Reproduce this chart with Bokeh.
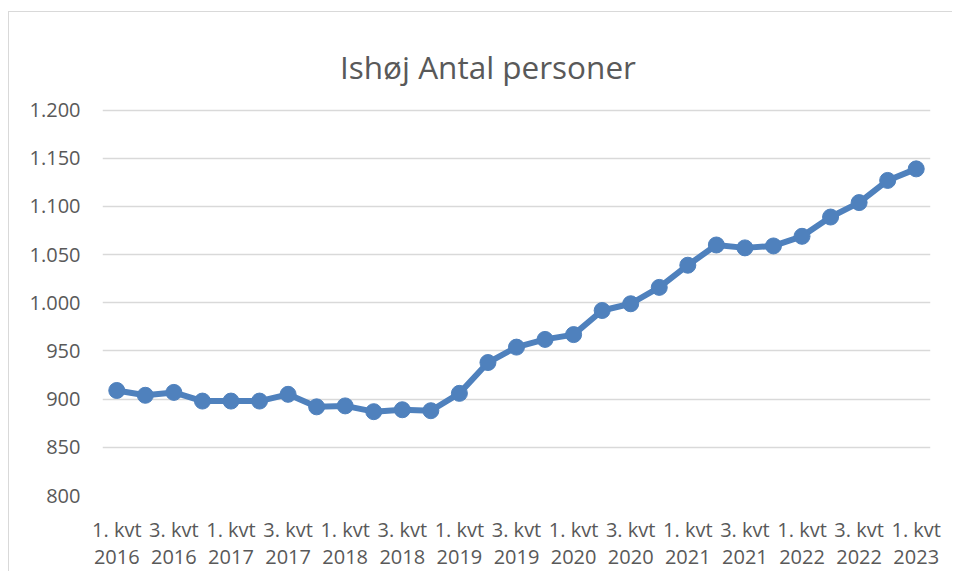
from bokeh.plotting import figure
from bokeh.models import Range1d, FixedTicker, Label
from bokeh.embed import file_html
from bokeh.resources import INLINE

title_text = "Ishøj Antal personer"

quarters = [
    "1. kvt 2016", "2. kvt 2016", "3. kvt 2016", "4. kvt 2016",
    "1. kvt 2017", "2. kvt 2017", "3. kvt 2017", "4. kvt 2017",
    "1. kvt 2018", "2. kvt 2018", "3. kvt 2018", "4. kvt 2018",
    "1. kvt 2019", "2. kvt 2019", "3. kvt 2019", "4. kvt 2019",
    "1. kvt 2020", "2. kvt 2020", "3. kvt 2020", "4. kvt 2020",
    "1. kvt 2021", "2. kvt 2021", "3. kvt 2021", "4. kvt 2021",
    "1. kvt 2022", "2. kvt 2022", "3. kvt 2022", "4. kvt 2022",
    "1. kvt 2023",
]

persons = [
    909, 904, 907, 898,
    898, 898, 905, 892,
    893, 887, 889, 888,
    906, 938, 954, 962,
    967, 992, 999, 1016,
    1039, 1060, 1057, 1059,
    1069, 1089, 1104, 1127,
    1139,
]

y_ticks = [800, 850, 900, 950, 1000, 1050, 1100, 1150, 1200]
y_tick_labels = ["800", "850", "900", "950", "1.000", "1.050", "1.100", "1.150", "1.200"]

FONT = "Open Sans"
TEXT_COLOR = "#595959"
GRID_COLOR = "#d9d9d9"
LINE_COLOR = "#4f81bd"

xs = list(range(len(quarters)))

# the plot area reaches the top of the canvas; the space above 1.200 holds the title
Y_MIN, Y_MAX_TICK = 800, 1200
Y_TOP = Y_MAX_TICK + 98 / (387 / 400)

p = figure(
    width=944, height=560,
    output_backend="svg", toolbar_location=None,
    x_range=Range1d(-0.5, len(quarters) - 0.5),
    y_range=Range1d(Y_MIN, Y_TOP),
    min_border_left=93, min_border_right=23,
    min_border_top=0, min_border_bottom=75,
    title=None,
)
p.styles = {
    "border-left": "1px solid #d9d9d9",
    "border-top": "1px solid #d9d9d9",
    "margin-top": "11px",
    "margin-left": "8px",
}
p.outline_line_color = None
p.background_fill_color = "white"
p.border_fill_color = "white"

p.line(xs, persons, line_color=LINE_COLOR, line_width=6, line_join="round")
p.scatter(xs, persons, size=16, fill_color=LINE_COLOR, line_color=LINE_COLOR)

# title drawn inside the (extended) plot area, above the 1.200 gridline
title = Label(
    x=(len(quarters) - 1) / 2 - 1, y=Y_MAX_TICK + 44 / (387 / 400),
    text=title_text, text_align="center", text_baseline="alphabetic",
    text_font=FONT, text_font_size="31.5px", text_color=TEXT_COLOR,
)
p.add_layout(title)

# x axis
tick_idx = [i for i in xs if i % 2 == 0]
p.xaxis.ticker = FixedTicker(ticks=tick_idx)
p.xaxis.major_label_overrides = {i: quarters[i].replace(" 20", "\n20") for i in tick_idx}
p.xaxis.axis_line_color = None
p.xaxis.major_tick_line_color = None
p.xaxis.minor_tick_line_color = None
p.xaxis.major_label_standoff = 14
p.xaxis.major_label_text_font = FONT
p.xaxis.major_label_text_font_size = "20px"
p.xaxis.major_label_text_color = TEXT_COLOR
p.xaxis.major_label_text_line_height = 1.0
p.xgrid.grid_line_color = None

# y axis
p.yaxis.ticker = FixedTicker(ticks=y_ticks)
p.yaxis.major_label_overrides = dict(zip(y_ticks, y_tick_labels))
p.yaxis.axis_line_color = None
p.yaxis.major_tick_line_color = None
p.yaxis.minor_tick_line_color = None
p.yaxis.major_label_standoff = 16
p.yaxis.major_label_text_font = FONT
p.yaxis.major_label_text_font_size = "20px"
p.yaxis.major_label_text_color = TEXT_COLOR
p.ygrid.grid_line_color = GRID_COLOR
p.ygrid.grid_line_width = 1.5

open("out.html", "w").write(file_html(p, INLINE))
